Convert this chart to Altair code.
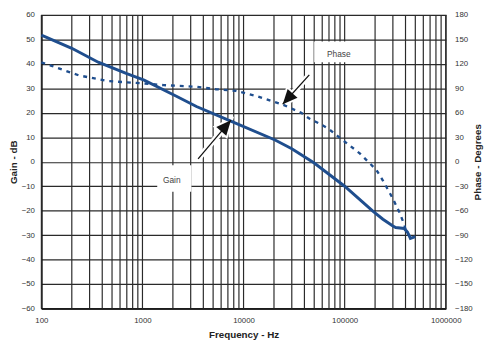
import altair as alt
import pandas as pd

# ---- data ----
gain_freq = [100, 200, 365, 700, 1038, 2190, 3420, 7480, 20500, 30000, 50000, 100000,
             152800, 190000, 239000, 300000, 320000, 388000, 418000, 447000, 500000]
gain_db = [51.8, 46.4, 40.7, 36.0, 33.4, 26.7, 22.6, 16.6, 8.9, 5.3, -0.5, -10.0,
           -16.7, -20.2, -23.5, -26.3, -26.9, -27.3, -28.8, -31.3, -30.6]

phase_freq = [100, 124, 234, 457, 1038, 1620, 3420, 5340, 8350, 13100, 24500, 37200,
              44700, 56000, 70000, 84100, 142000, 206000, 239000, 299000, 348000,
              389000, 403000, 440000, 480000]
phase_deg = [122, 118, 106, 99, 96, 94, 92, 89, 87, 81, 70, 60, 53, 47, 40, 32, 10,
             -10, -23, -45, -62, -77, -85, -91, -93]

decades = [100, 1000, 10000, 100000, 1000000]
grid_freq = [m * d for d in [100, 1000, 10000, 100000] for m in range(1, 10)] + [1000000]
gain_ticks = list(range(-60, 61, 10))
phase_ticks = list(range(-180, 181, 30))

# annotations (data coordinates on the gain scale)
ann_label = ["Gain", "Phase"]
ann_text_f = [1950, 87500]
ann_text_db = [-7.5, 43.9]
ann_box_f1 = [1400, 50000]
ann_box_f2 = [3050, 150000]
ann_box_db1 = [-1.4, 49.2]
ann_box_db2 = [-12.3, 40.7]
arrow_tail_f = [3550, 44700]
arrow_tail_db = [1.2, 35.5]
arrow_tip_f = [7500, 24400]
arrow_tip_db = [17.0, 23.5]
arrow_angle = [41, 222]

gain_df = pd.DataFrame({"f": gain_freq, "g": gain_db})
phase_df = pd.DataFrame({"f": phase_freq, "p": phase_deg})
grid_df = pd.DataFrame({"f": grid_freq})
ann_df = pd.DataFrame({
    "label": ann_label, "tf": ann_text_f, "tdb": ann_text_db,
    "bf1": ann_box_f1, "bf2": ann_box_f2, "bd1": ann_box_db1, "bd2": ann_box_db2,
    "af1": arrow_tail_f, "ad1": arrow_tail_db, "af2": arrow_tip_f, "ad2": arrow_tip_db,
    "ang": arrow_angle,
})

FONT = "Liberation Sans"
BLUE = "#1F4E8E"
GRID = "#2a2a2a"

xscale = alt.Scale(type="log", domain=[100, 1000000], nice=False)
xaxis = alt.Axis(values=decades, format="d", grid=False, ticks=False, labelPadding=8,
                 labelFlush=False, labelOverlap=False,
                 labelFontSize=8, labelColor="#333", labelFont=FONT,
                 title="Frequency - Hz", titleFont=FONT, titleFontSize=10,
                 titleFontWeight="bold", titleColor="#222", titlePadding=6,
                 domainColor="#111", domainWidth=1.5)
yscale = alt.Scale(domain=[-60, 60], nice=False)
yaxis = alt.Axis(values=gain_ticks, grid=True, gridColor=GRID, gridWidth=1.2,
                 ticks=False, labelPadding=7, labelFontSize=8, labelColor="#333",
                 labelFont=FONT, labelOverlap=False, labelFlush=False,
                 title="Gain - dB", titleFont=FONT, titleFontSize=10,
                 titleFontWeight="bold", titleColor="#222", titlePadding=3,
                 domainColor="#111", domainWidth=1.5)

base = alt.Chart(ann_df)

vgrid = alt.Chart(grid_df).mark_rule(color=GRID, strokeWidth=1.2).encode(
    x=alt.X("f:Q", scale=xscale, axis=xaxis))

gain_line = alt.Chart(gain_df).mark_line(color=BLUE, strokeWidth=3).encode(
    x=alt.X("f:Q", scale=xscale, axis=xaxis),
    y=alt.Y("g:Q", scale=yscale, axis=yaxis))

boxes = base.mark_rect(color="white").encode(
    x=alt.X("bf1:Q", scale=xscale, axis=xaxis), x2="bf2:Q",
    y=alt.Y("bd1:Q", scale=yscale, axis=yaxis), y2="bd2:Q")

labels = base.mark_text(font=FONT, fontSize=8.5, color="#444").encode(
    x=alt.X("tf:Q", scale=xscale, axis=xaxis),
    y=alt.Y("tdb:Q", scale=yscale, axis=yaxis), text="label:N")

shaft_halo = base.mark_rule(color="white", strokeWidth=6).encode(
    x=alt.X("af1:Q", scale=xscale, axis=xaxis), x2="af2:Q",
    y=alt.Y("ad1:Q", scale=yscale, axis=yaxis), y2="ad2:Q")
shaft = base.mark_rule(color="#111", strokeWidth=1.3).encode(
    x=alt.X("af1:Q", scale=xscale, axis=xaxis), x2="af2:Q",
    y=alt.Y("ad1:Q", scale=yscale, axis=yaxis), y2="ad2:Q")

HEAD = "M0,0L0.45,1L-0.45,1Z"
head_halo = base.mark_point(shape=HEAD, filled=True, fill="white", stroke="white",
                            strokeWidth=4, size=900, opacity=1).encode(
    x=alt.X("af2:Q", scale=xscale, axis=xaxis),
    y=alt.Y("ad2:Q", scale=yscale, axis=yaxis),
    angle=alt.Angle("ang:Q", scale=None))
head = base.mark_point(shape=HEAD, filled=True, fill="#111", strokeWidth=0,
                       size=900, opacity=1).encode(
    x=alt.X("af2:Q", scale=xscale, axis=xaxis),
    y=alt.Y("ad2:Q", scale=yscale, axis=yaxis),
    angle=alt.Angle("ang:Q", scale=None))

gain_group = alt.layer(vgrid, boxes, labels, shaft_halo, head_halo, gain_line, shaft, head)

phase_line = alt.Chart(phase_df).mark_line(color=BLUE, strokeWidth=2.4,
                                           strokeDash=[4, 5]).encode(
    x=alt.X("f:Q", scale=xscale, axis=xaxis),
    y=alt.Y("p:Q", scale=alt.Scale(domain=[-180, 180], nice=False),
            axis=alt.Axis(orient="right", values=phase_ticks, grid=False, ticks=False,
                          labelPadding=9, labelFontSize=8, labelColor="#333",
                          labelFont=FONT, labelOverlap=False, labelFlush=False,
                          title="Phase - Degrees", titleAngle=270,
                          titleFont=FONT, titleFontSize=10, titleFontWeight="bold",
                          titleColor="#222", titlePadding=10, domain=False)))

chart = alt.layer(gain_group, phase_line).resolve_scale(y="independent").properties(
    width=412, height=299,
    autosize=alt.AutoSizeParams(type="none"),
    padding={"left": 34, "top": 4, "right": 40, "bottom": 32},
    background="white",
).configure_view(stroke="#222", strokeWidth=1.2)

chart.save("out.html", embed_options={"renderer": "svg", "actions": False})
